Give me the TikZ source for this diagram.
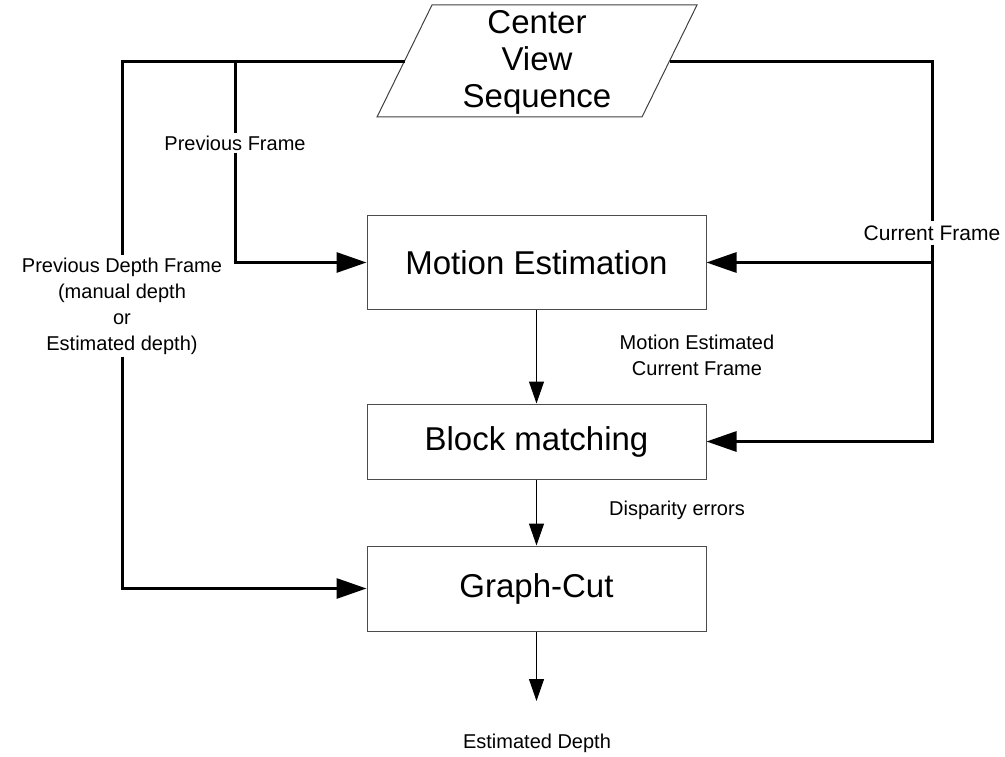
\documentclass[tikz,border=0pt]{standalone}
\usepackage{fontspec}
\setmainfont{Liberation Sans}
\usetikzlibrary{arrows.meta}

\tikzset{
  procbox/.style={draw=black!70, line width=1pt, minimum width=339pt,
    inner sep=0pt, font=\fontsize{33}{38}\selectfont},
  lbl/.style={font=\fontsize{20}{26}\selectfont, align=center, inner sep=2pt},
  bus/.style={line width=3pt},
  busarrow/.style={line width=3pt, -{Triangle[length=30pt,width=20pt]}},
  flow/.style={line width=1pt, -{Triangle[length=22pt,width=15pt]}},
}

\begin{document}
\begin{tikzpicture}[x=1pt,y=-1pt]
\useasboundingbox (0,0) rectangle (1005,757);

% input data: parallelogram
\draw[line width=1pt, draw=black!75] (432,5) -- (697,5) -- (642,117) -- (377,117) -- cycle;
\node[font=\fontsize{33}{37}\selectfont, align=center] (cvs) at (537,62)
  {Center\\View\\Sequence};
\coordinate (cvsL) at (404.5,62);
\coordinate (cvsR) at (669.5,62);

% processing blocks
\node[procbox, minimum height=93pt] (me) at (536.5,262.5) {Motion Estimation};
\node[procbox, minimum height=75pt] (bm) at (536.5,441.5) {Block matching};
\node[procbox, minimum height=85pt] (gc) at (536.5,588.5) {Graph-Cut};

% bus corners
\coordinate (tl) at (122,62);
\coordinate (tm) at (235,62);
\coordinate (tr) at (932,62);

% labels on the buses
\node[lbl] (pf) at (235,143) {Previous Frame};
\node[lbl] (pdf) at (122,306) {Previous Depth Frame\\(manual depth\\or\\Estimated depth)};
\node[lbl, font=\fontsize{21}{26}\selectfont, inner sep=4pt] (cf) at (932,233) {Current Frame};

% other labels
\node[lbl] (mecf) at (697,355) {Motion Estimated\\Current Frame};
\node[lbl] (de) at (677,510) {Disparity errors};
\node[lbl] (ed) at (537,743) {Estimated Depth};
\coordinate (out) at (536.5,701);

% previous depth frame path
\draw[bus] (cvsL) -- (tl) -- (pdf.north);
\draw[busarrow] (pdf.south) |- (gc.west);

% previous frame path
\draw[bus] (tm) -- (pf.north);
\draw[busarrow] (pf.south) |- (me.west);

% current frame path
\draw[bus] (cvsR) -- (tr) -- (cf.north);
\draw[busarrow] (cf.south) |- (bm.east);
\draw[busarrow] (cf.south |- me.east) -- (me.east);

% main flow
\draw[flow] (me.south) -- (bm.north);
\draw[flow] (bm.south) -- (gc.north);
\draw[flow] (gc.south) -- (out);
\end{tikzpicture}
\end{document}
